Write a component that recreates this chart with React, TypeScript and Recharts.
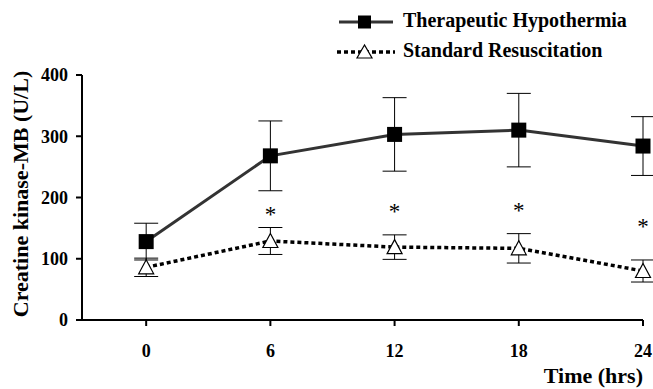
import React from "react";
import { ComposedChart, Line, XAxis, YAxis, ErrorBar, Legend } from "recharts";

const hours = [0, 6, 12, 18, 24];
const hypothermia = [128, 268, 303, 310, 284];
const hypothermiaErr = [30, 57, 60, 60, 48];
const standard = [86, 129, 119, 117, 80];
const standardErr = [15, 22, 20, 24, 18];
const significance = [null, 180, 185, 186, 160];
const seriesNames = ["Therapeutic Hypothermia", "Standard Resuscitation"];
const yTicks = [0, 100, 200, 300, 400];
const yLabel = "Creatine kinase-MB (U/L)";
const xLabel = "Time (hrs)";

const data = hours.map((h, i) => ({
  h,
  th: hypothermia[i],
  thErr: hypothermiaErr[i],
  sr: standard[i],
  srErr: standardErr[i],
  sig: significance[i],
}));

const FONT = "'Liberation Serif', 'Times New Roman', serif";

const SquareDot = (props: any) => {
  const { cx, cy, index } = props;
  if (cx == null || cy == null) return null;
  const s = 15;
  return <rect key={`sq-${index}`} x={cx - s / 2} y={cy - s / 2} width={s} height={s} fill="#000" />;
};

const TriangleDot = (props: any) => {
  const { cx, cy, index } = props;
  if (cx == null || cy == null) return null;
  const w = 15;
  const h = 13;
  const pts = `${cx},${cy - h / 2 - 1} ${cx - w / 2},${cy + h / 2} ${cx + w / 2},${cy + h / 2}`;
  return <polygon key={`tr-${index}`} points={pts} fill="#fff" stroke="#000" strokeWidth={1.2} />;
};

const StarDot = (props: any) => {
  const { cx, cy, index, value } = props;
  if (cx == null || cy == null || value == null) return null;
  return (
    <text key={`st-${index}`} x={cx} y={cy + 12} textAnchor="middle" fontFamily={FONT} fontSize={23} fill="#000">
      *
    </text>
  );
};

const LegendContent = () => (
  <svg width={653} height={70} style={{ display: "block" }}>
    <line x1={339} y1={22} x2={393} y2={22} stroke="#333" strokeWidth={3} />
    <rect x={358} y={15.5} width={13} height={13} fill="#000" />
    <text x={403} y={27} fontFamily={FONT} fontWeight="bold" fontSize={20} fill="#000">
      {seriesNames[0]}
    </text>
    <line x1={337} y1={52} x2={395} y2={52} stroke="#000" strokeWidth={3.5} strokeDasharray="4 3" />
    <polygon points="364.5,45 357,58 372,58" fill="#fff" stroke="#000" strokeWidth={1.2} />
    <text x={403} y={57} fontFamily={FONT} fontWeight="bold" fontSize={20} fill="#000">
      {seriesNames[1]}
    </text>
  </svg>
);

export default function App() {
  return (
    <div style={{ position: "absolute", left: 0, top: 0, width: 653, height: 389, background: "#fff" }}>
      <ComposedChart width={653} height={389} data={data} margin={{ top: 75, right: 10, bottom: 0, left: 0 }}>
        <XAxis
          dataKey="h"
          type="number"
          domain={[-3.1, 24]}
          ticks={hours}
          height={69}
          stroke="#000"
          strokeWidth={2}
          tickSize={6}
          tickMargin={18}
          tick={{ fontFamily: FONT, fontWeight: "bold", fontSize: 18, fill: "#000" }}
          tickLine={{ stroke: "#000", strokeWidth: 2 }}
          label={(p: any) => {
            const vb = p.viewBox || {};
            return (
              <text x={vb.x + vb.width} y={383} textAnchor="end" fontFamily={FONT} fontWeight="bold" fontSize={22} fill="#000">
                {xLabel}
              </text>
            );
          }}
        />
        <YAxis
          type="number"
          domain={[0, 400]}
          ticks={yTicks}
          width={82}
          stroke="#000"
          strokeWidth={2}
          tickSize={6}
          tickMargin={8}
          tick={{ fontFamily: FONT, fontWeight: "bold", fontSize: 18, fill: "#000" }}
          tickLine={{ stroke: "#000", strokeWidth: 2 }}
          label={() => (
            <text
              x={28}
              y={194}
              transform="rotate(-90, 28, 194)"
              textAnchor="middle"
              fontFamily={FONT}
              fontWeight="bold"
              fontSize={22}
              fill="#000"
            >
              {yLabel}
            </text>
          )}
        />
        <Legend
          verticalAlign="middle"
          layout="horizontal"
          content={<LegendContent />}
          wrapperStyle={{ position: "absolute", top: 0, left: 0, width: 653, height: 70 }}
        />
        <Line
          dataKey="sr"
          name={seriesNames[1]}
          stroke="#000"
          strokeWidth={3.5}
          strokeDasharray="4 3"
          dot={<TriangleDot />}
          activeDot={false}
          isAnimationActive={false}
        >
          <ErrorBar dataKey="srErr" width={12} stroke="#000" strokeWidth={1} direction="y" />
        </Line>
        <Line
          dataKey="th"
          name={seriesNames[0]}
          stroke="#333"
          strokeWidth={3}
          dot={<SquareDot />}
          activeDot={false}
          isAnimationActive={false}
        >
          <ErrorBar dataKey="thErr" width={12} stroke="#000" strokeWidth={1} direction="y" />
        </Line>
        <Line
          dataKey="sig"
          stroke="none"
          dot={<StarDot />}
          activeDot={false}
          legendType="none"
          isAnimationActive={false}
        />
      </ComposedChart>
    </div>
  );
}
